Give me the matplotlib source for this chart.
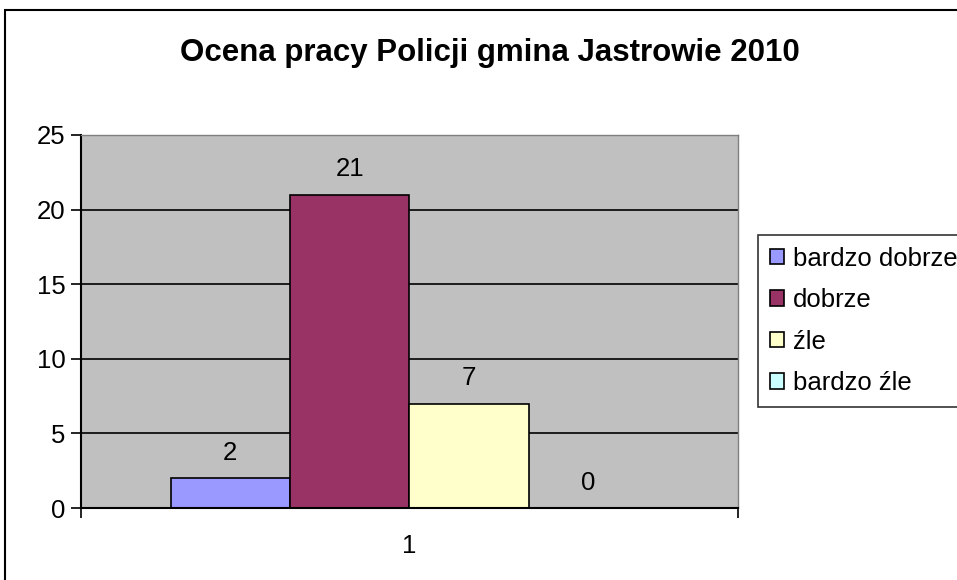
import matplotlib
matplotlib.use("Agg")
import matplotlib.pyplot as plt
from matplotlib.patches import Rectangle

# ---------------- DATA ----------------
TITLE = "Ocena pracy Policji gmina Jastrowie 2010"
CATEGORIES = ["1"]
SERIES = ["bardzo dobrze", "dobrze", "źle", "bardzo źle"]
VALUES = [2, 21, 7, 0]
COLORS = ["#9999FF", "#993366", "#FFFFCC", "#CCFFFF"]
Y_TICKS = [0, 5, 10, 15, 20, 25]
# --------------------------------------

plt.rcParams["font.family"] = ["Liberation Sans", "DejaVu Sans"]

W, H = 957, 580
FS = 18.5
fig = plt.figure(figsize=(W / 100, H / 100), dpi=100)
fig.patch.set_facecolor("white")

# chart border (partly cut off at right and bottom)
fig.patches.append(Rectangle((5 / W, 0 - 0.05), 1.1, 1 - 10 / H + 0.05,
                             transform=fig.transFigure, fill=False,
                             edgecolor="black", linewidth=1.5))

left, right, top, bottom = 81, 738, 135, 508
ax = fig.add_axes([left / W, 1 - bottom / H, (right - left) / W, (bottom - top) / H])
ax.set_facecolor("#C0C0C0")

n = len(SERIES)
width = 1 / (n + 1.5)
for i, (name, val, col) in enumerate(zip(SERIES, VALUES, COLORS)):
    xc = 1 + (i - (n - 1) / 2) * width
    ax.bar(xc, val, width=width, color=col, edgecolor="black", linewidth=1.2,
           label=name, zorder=3)
    ax.text(xc, val + 1.7, str(val), ha="center", va="center", fontsize=FS, zorder=4)

ax.set_xlim(0.5, 1.5)
ax.set_ylim(0, 25)
ax.set_yticks(Y_TICKS)
ax.set_yticklabels([str(t) for t in Y_TICKS], fontsize=FS)
ax.set_xticks([1])
ax.set_xticklabels(CATEGORIES, fontsize=FS)
ax.tick_params(axis="x", length=0, pad=19)
ax.tick_params(axis="y", length=7, width=1.2, pad=4)
ax.set_xticks([0.5, 1.5], minor=True)
ax.tick_params(axis="x", which="minor", length=7, width=1.2, direction="out")

for y in Y_TICKS[1:-1]:
    ax.axhline(y, color="black", linewidth=1.2, zorder=1)

for s in ["top", "right"]:
    ax.spines[s].set_color("#808080")
    ax.spines[s].set_linewidth(1)
for s in ["left", "bottom"]:
    ax.spines[s].set_color("black")
    ax.spines[s].set_linewidth(1.5)
ax.spines["bottom"].set_zorder(5)

fig.text(490 / W, 1 - 53 / H, TITLE, ha="center", va="center",
         fontsize=22.5, fontweight="bold")

leg = fig.legend(loc="upper left", bbox_to_anchor=(758 / W, 1 - 235 / H),
                 fontsize=FS, frameon=True, fancybox=False, edgecolor="black",
                 handlelength=0.55, handleheight=0.55, handletextpad=0.35,
                 labelspacing=0.68, borderpad=0.45, borderaxespad=0)
leg.get_frame().set_linewidth(1.2)
for h in leg.legend_handles:
    h.set_linewidth(1.2)

fig.savefig("out.png", dpi=100)
